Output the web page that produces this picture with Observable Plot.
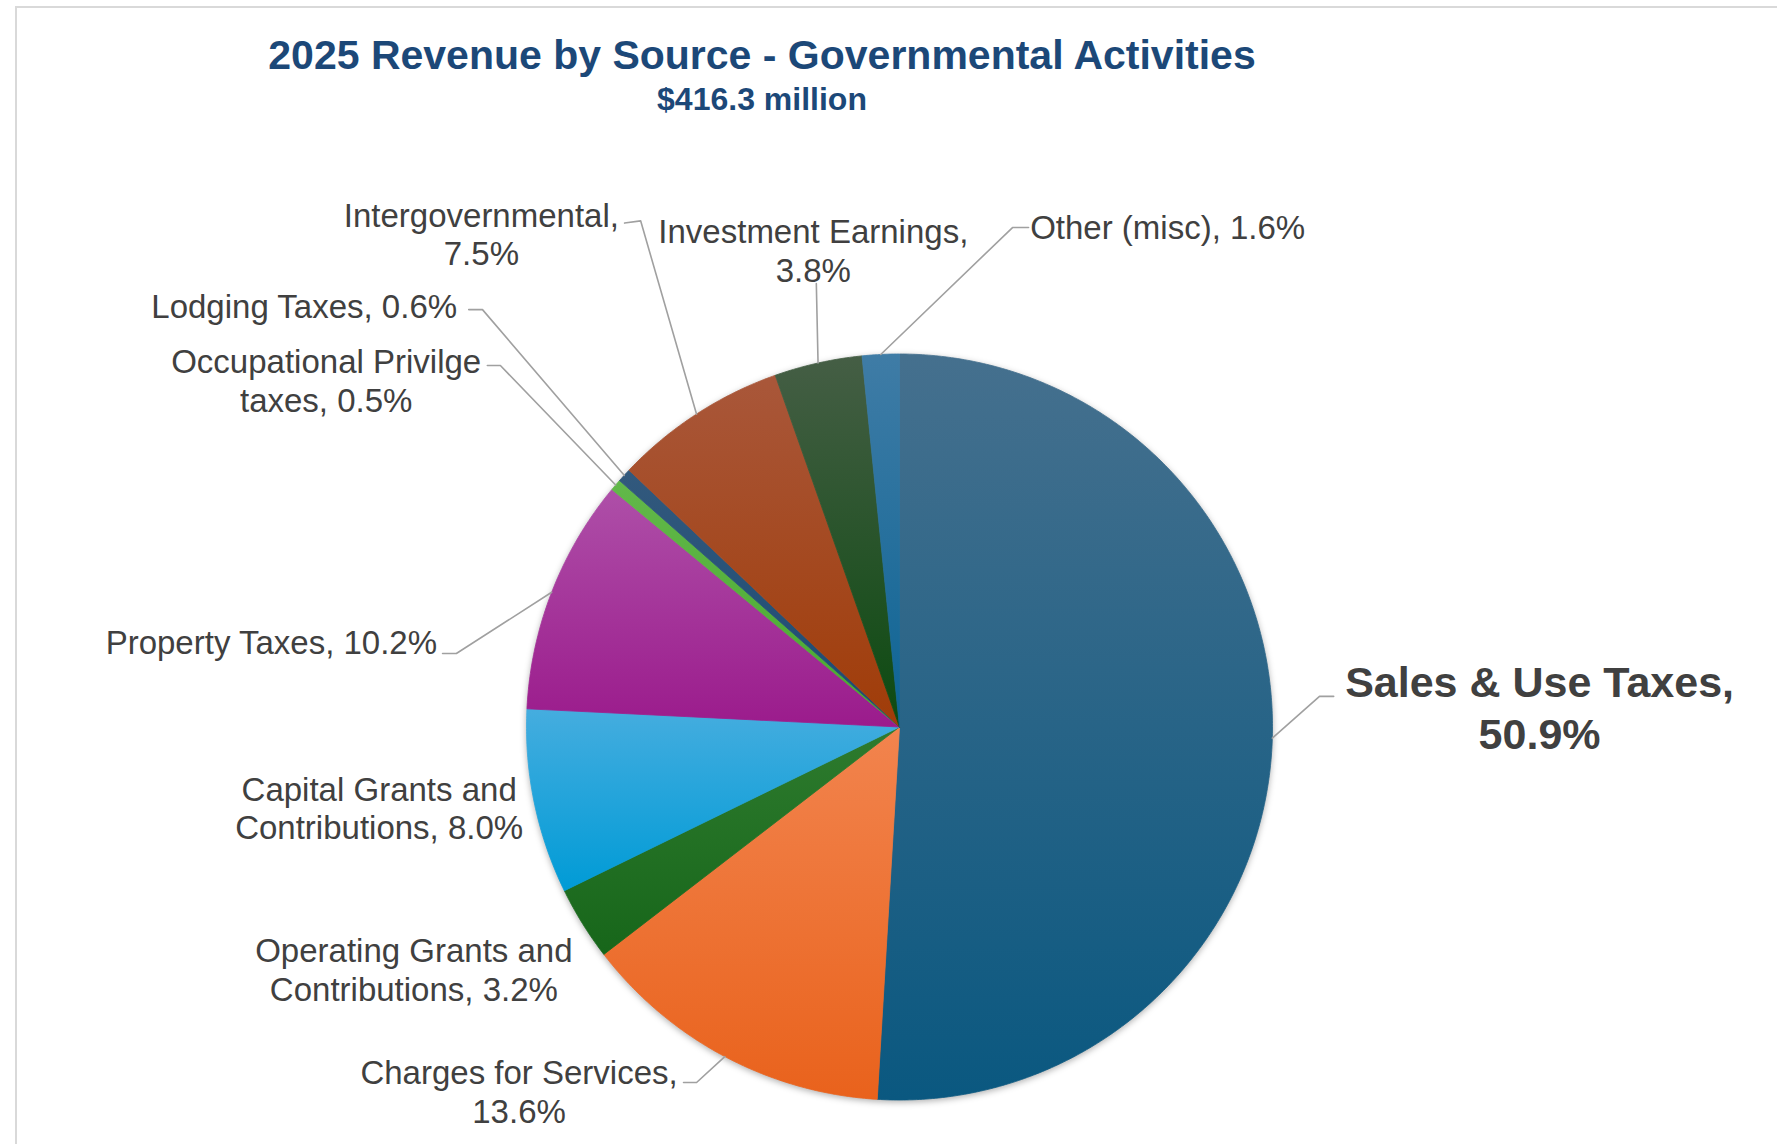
<!DOCTYPE html>
<html><head><meta charset="utf-8">
<script src="https://cdn.jsdelivr.net/npm/d3@7"></script>
<script src="https://cdn.jsdelivr.net/npm/@observablehq/plot@0.6"></script>
<style>
html,body{margin:0;padding:0;background:#fff;overflow:hidden;}
#wrap{position:relative;width:1777px;height:1144px;font-family:"Liberation Sans",Arial,sans-serif;overflow:hidden;}
#frame{position:absolute;left:15px;top:6px;width:1800px;height:1200px;border-top:2px solid #d9d9d9;border-left:2px solid #d9d9d9;}
#head{position:absolute;left:0;top:0;width:1524px;height:120px;text-align:center;color:#1c4878;font-weight:bold;}
#title{position:absolute;left:0;top:33px;width:100%;font-size:41px;line-height:44px;}
#sub{position:absolute;left:0;top:81px;width:100%;font-size:32px;line-height:36px;}
#chart{position:absolute;left:0;top:120px;}
</style></head><body>
<div id="wrap"><div id="frame"></div>
<div id="head"><div id="title">2025 Revenue by Source - Governmental Activities</div><div id="sub">$416.3 million</div></div>
<div id="chart"></div></div>
<script>
// ---- data ----
const categories = ["Sales & Use Taxes","Charges for Services","Operating Grants and Contributions","Capital Grants and Contributions","Property Taxes","Occupational Privilge taxes","Lodging Taxes","Intergovernmental","Investment Earnings","Other (misc)"];
const shares = [50.9, 13.6, 3.2, 8.0, 10.2, 0.5, 0.6, 7.5, 3.8, 1.6];
const labelTexts = ["Sales & Use Taxes,\n50.9%","Charges for Services,\n13.6%","Operating Grants and\nContributions, 3.2%","Capital Grants and\nContributions, 8.0%","Property Taxes, 10.2%","Occupational Privilge\ntaxes, 0.5%","Lodging Taxes, 0.6%","Intergovernmental,\n7.5%","Investment Earnings,\n3.8%","Other (misc), 1.6%"];

// ---- styles / layout (radius units, centre of pie = 0,0, y up) ----
const topColors    = ["#45708e","#f2844e","#2e7b2e","#45addf","#ae4fa8","#62b84a","#32597d","#a9573a","#455e45","#3f7ca6"];
const bottomColors = ["#0a5880","#e9621c","#17661a","#009bd6","#9b1b8c","#48a82e","#1c4a72","#a03c08","#0c4a10","#0d6494"];
const labelPos = [[1.716,0.055],[-1.020,-0.975],[-1.302,-0.650],[-1.395,-0.216],[-1.684,0.228],[-1.537,0.930],[-1.596,1.130],[-1.121,1.323],[-0.231,1.279],[0.719,1.343]];
// leader: [endX,endY,elbowX,elbowY] or null
const leaderPos = [[1.164,0.082,1.126,0.082],[-0.579,-0.953,-0.544,-0.953],null,null,[-1.225,0.197,-1.188,0.197],[-1.105,0.969,-1.070,0.969],[-1.155,1.119,-1.118,1.119],[-0.737,1.351,-0.694,1.357],[-0.223,1.189,-0.223,1.189],[0.346,1.339,0.303,1.339]];

const W = 1777, H = 1024, cx = 899, cy = 606.5, R = 373;

const rows = categories.map((name, i) => ({name, value: shares[i], i}));
const arcs = d3.pie().sort(null).value(d => d.value)(rows);

const slicePts = [];
arcs.forEach(a => {
  const i = a.data.i;
  const n = Math.max(2, Math.ceil((a.endAngle - a.startAngle) / (Math.PI / 360)));
  const col = bottomColors[i];
  slicePts.push({name: a.data.name, x: 0, y: 0, col});
  for (let k = 0; k <= n; k++) {
    const t = a.startAngle + (a.endAngle - a.startAngle) * k / n;
    slicePts.push({name: a.data.name, x: Math.sin(t), y: Math.cos(t), col});
  }
  slicePts.push({name: a.data.name, x: 0, y: 0, col});
});

const leaderPts = [];
arcs.forEach(a => {
  const i = a.data.i, L = leaderPos[i];
  if (!L) return;
  const m = (a.startAngle + a.endAngle) / 2;
  leaderPts.push({name: a.data.name, x: L[0], y: L[1]});
  leaderPts.push({name: a.data.name, x: L[2], y: L[3]});
  leaderPts.push({name: a.data.name, x: Math.sin(m), y: Math.cos(m)});
});

const labels = rows.map((d, i) => ({name: d.name, text: labelTexts[i], x: labelPos[i][0], y: labelPos[i][1], big: i === 0}));

const chart = Plot.plot({
  width: W, height: H, margin: 0,
  x: {type: "linear", domain: [-1, 1], range: [cx - R, cx + R], axis: null},
  y: {type: "linear", domain: [-1, 1], range: [cy + R, cy - R], axis: null},
  color: {type: "identity"},
  style: {fontFamily: "'Liberation Sans', Arial, sans-serif", background: "transparent", overflow: "visible"},
  marks: [
    Plot.line(slicePts, {x: "x", y: "y", z: "name", fill: "col", stroke: "col", strokeWidth: 0.8, curve: "linear"}),
    Plot.line(leaderPts, {x: "x", y: "y", z: "name", stroke: "#a0a0a0", strokeWidth: 1.6, curve: "linear"}),
    Plot.text(labels.filter(d => !d.big), {x: "x", y: "y", text: "text", fontSize: 33, fill: "#404040", lineAnchor: "middle", lineHeight: 1.18}),
    Plot.text(labels.filter(d => d.big), {x: "x", y: "y", text: "text", fontSize: 43, fontWeight: "bold", fill: "#404040", lineAnchor: "middle", lineHeight: 1.2})
  ]
});

// vertical gradients per slice
const svg = d3.select(chart.tagName.toLowerCase() === "svg" ? chart : chart.querySelector("svg"));
const defs = svg.insert("defs", ":first-child");
topColors.forEach((c, i) => {
  const g = defs.append("linearGradient").attr("id", "slicegrad" + i)
    .attr("x1", 0).attr("y1", 0).attr("x2", 0).attr("y2", 1);
  g.append("stop").attr("offset", "0%").attr("stop-color", c);
  g.append("stop").attr("offset", "100%").attr("stop-color", bottomColors[i]);
});
const pieG = svg.select('g[aria-label="line"]');
pieG.style("filter", "drop-shadow(0px 2px 3px rgba(0,0,0,0.3))");
pieG.selectAll("path").each(function() {
  const i = bottomColors.indexOf(this.getAttribute("fill"));
  if (i < 0) return;
  this.setAttribute("fill", `url(#slicegrad${i})`);
  this.setAttribute("stroke", `url(#slicegrad${i})`);
});
document.getElementById("chart").appendChild(chart);
</script>
</body></html>
